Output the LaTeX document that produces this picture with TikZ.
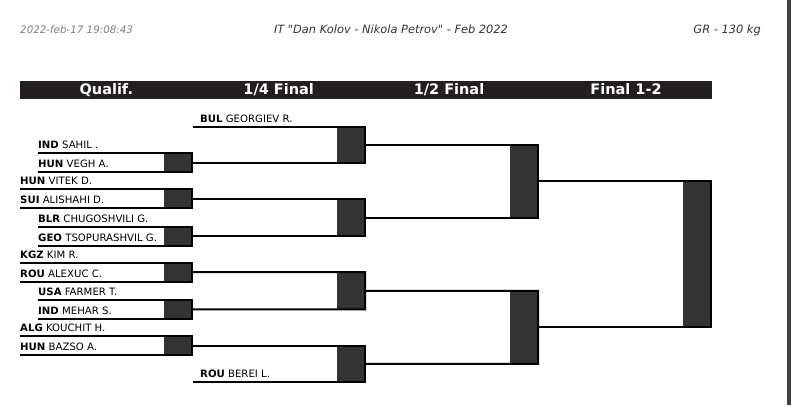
\documentclass[tikz,border=0pt]{standalone}
\usepackage{fontspec}
\setmainfont{DejaVu Sans}
\newfontfamily\hdrfont{DejaVu Sans}
\usetikzlibrary{fit}
\definecolor{boxgray}{HTML}{333333}
\definecolor{bargray}{HTML}{231F20}
\definecolor{edgegray}{HTML}{3C4043}
\definecolor{dategray}{HTML}{808080}
\definecolor{titlegray}{HTML}{333333}
\begin{document}
\begin{tikzpicture}[x=1pt,y=-1pt,
  ln/.style={line width=2pt, black},
  bbox/.style={fill=boxgray, inner sep=0pt, outer sep=0pt, draw=none},
  wrestler/.style={anchor=base west, inner sep=0pt, font=\fontsize{10.15}{12}\selectfont},
  colhead/.style={text=white, font=\bfseries\fontsize{14.5}{16}\selectfont, anchor=base, inner sep=0pt},
  hdr/.style={font=\hdrfont\itshape\fontsize{11.4}{13}\selectfont, anchor=base, inner sep=0pt}]
\useasboundingbox (0,0) rectangle (791,405);
\fill[white] (0,0) rectangle (791,405);
\fill[edgegray] (787,0) rectangle (791,405);

% header
\node[hdr, anchor=base west, text=dategray, font=\hdrfont\itshape\fontsize{10.3}{12}\selectfont] (date) at (20,33.3) {2022-feb-17 19:08:43};
\node[hdr, text=titlegray] (title) at (391,33.3) {IT "Dan Kolov - Nikola Petrov" - Feb 2022};
\node[hdr, anchor=base east, text=titlegray] (cat) at (761,33.3) {GR - 130 kg};

% column bar
\node[fill=bargray, minimum width=691.5pt, minimum height=18pt, inner sep=0pt, anchor=north west] (bar) at (20,81) {};
\node[colhead] (h1) at (106.3,94.3) {Qualif.};
\node[colhead] (h2) at (278.7,94.3) {1/4 Final};
\node[colhead] (h3) at (449,94.3) {1/2 Final};
\node[colhead] (h4) at (626,94.3) {Final 1-2};

% names
\node[wrestler] (n1) at (200,122.2) {\textbf{BUL} GEORGIEV R.};
\node[wrestler] (n2) at (38,148.8) {\textbf{IND} SAHIL .};
\node[wrestler] (n3) at (38,167.8) {\textbf{HUN} VEGH A.};
\node[wrestler] (n4) at (20,184.8) {\textbf{HUN} VITEK D.};
\node[wrestler] (n5) at (20,203.8) {\textbf{SUI} ALISHAHI D.};
\node[wrestler] (n6) at (38,222.2) {\textbf{BLR} CHUGOSHVILI G.};
\node[wrestler] (n7) at (38,241.2) {\textbf{GEO} TSOPURASHVIL G.};
\node[wrestler] (n8) at (20,258.2) {\textbf{KGZ} KIM R.};
\node[wrestler] (n9) at (20,277.2) {\textbf{ROU} ALEXUC C.};
\node[wrestler] (n10) at (38,295.5) {\textbf{USA} FARMER T.};
\node[wrestler] (n11) at (38,314.2) {\textbf{IND} MEHAR S.};
\node[wrestler] (n12) at (20,331.5) {\textbf{ALG} KOUCHIT H.};
\node[wrestler] (n13) at (20,350.5) {\textbf{HUN} BAZSO A.};
\node[wrestler] (n14) at (200,377.8) {\textbf{ROU} BEREI L.};

% line starts
\coordinate (s1) at (193,126.7);
\coordinate (s2) at (38,153.3);
\coordinate (s3) at (38,172.3);
\coordinate (s4) at (20,189.3);
\coordinate (s5) at (20,208.3);
\coordinate (s6) at (38,226.7);
\coordinate (s7) at (38,245.7);
\coordinate (s8) at (20,262.7);
\coordinate (s9) at (20,281.7);
\coordinate (s10) at (38,300);
\coordinate (s11) at (38,318.7);
\coordinate (s12) at (20,336);
\coordinate (s13) at (20,355);
\coordinate (s14) at (193,382.3);

% boxes
\node[bbox, fit={(164,153.3)(192,172.3)}] (qb1) {};
\node[bbox, fit={(164,189.3)(192,208.3)}] (qb2) {};
\node[bbox, fit={(164,226.7)(192,245.7)}] (qb3) {};
\node[bbox, fit={(164,262.7)(192,281.7)}] (qb4) {};
\node[bbox, fit={(164,300)(192,318.7)}] (qb5) {};
\node[bbox, fit={(164,336)(192,355)}] (qb6) {};
\node[bbox, fit={(337,126.7)(365,162.8)}] (qf1) {};
\node[bbox, fit={(337,198.8)(365,236.2)}] (qf2) {};
\node[bbox, fit={(337,272.2)(365,309.35)}] (qf3) {};
\node[bbox, fit={(337,345.5)(365,382.3)}] (qf4) {};
\node[bbox, fit={(510,144.75)(538,217.5)}] (sf1) {};
\node[bbox, fit={(510,290.775)(538,363.9)}] (sf2) {};
\node[bbox, fit={(683,181.125)(711,327.3375)}] (fin) {};

% connectors
\draw[ln] (s2) -- (qb1.north east) |- (s3);
\draw[ln] (s4) -- (qb2.north east) |- (s5);
\draw[ln] (s6) -- (qb3.north east) |- (s7);
\draw[ln] (s8) -- (qb4.north east) |- (s9);
\draw[ln] (s10) -- (qb5.north east) |- (s11);
\draw[ln] (s12) -- (qb6.north east) |- (s13);
\draw[ln] (s1) -- (qf1.north east) |- (qb1.east);
\draw[ln] (qb2.east) -- (qf2.north east) |- (qb3.east);
\draw[ln] (qb4.east) -- (qf3.north east) |- (qb5.east);
\draw[ln] (qb6.east) -- (qf4.north east) |- (s14);
\draw[ln] (qf1.east) -- (sf1.north east) |- (qf2.east);
\draw[ln] (qf3.east) -- (sf2.north east) |- (qf4.east);
\draw[ln] (sf1.east) -- (fin.north east) |- (sf2.east);
\end{tikzpicture}
\end{document}
